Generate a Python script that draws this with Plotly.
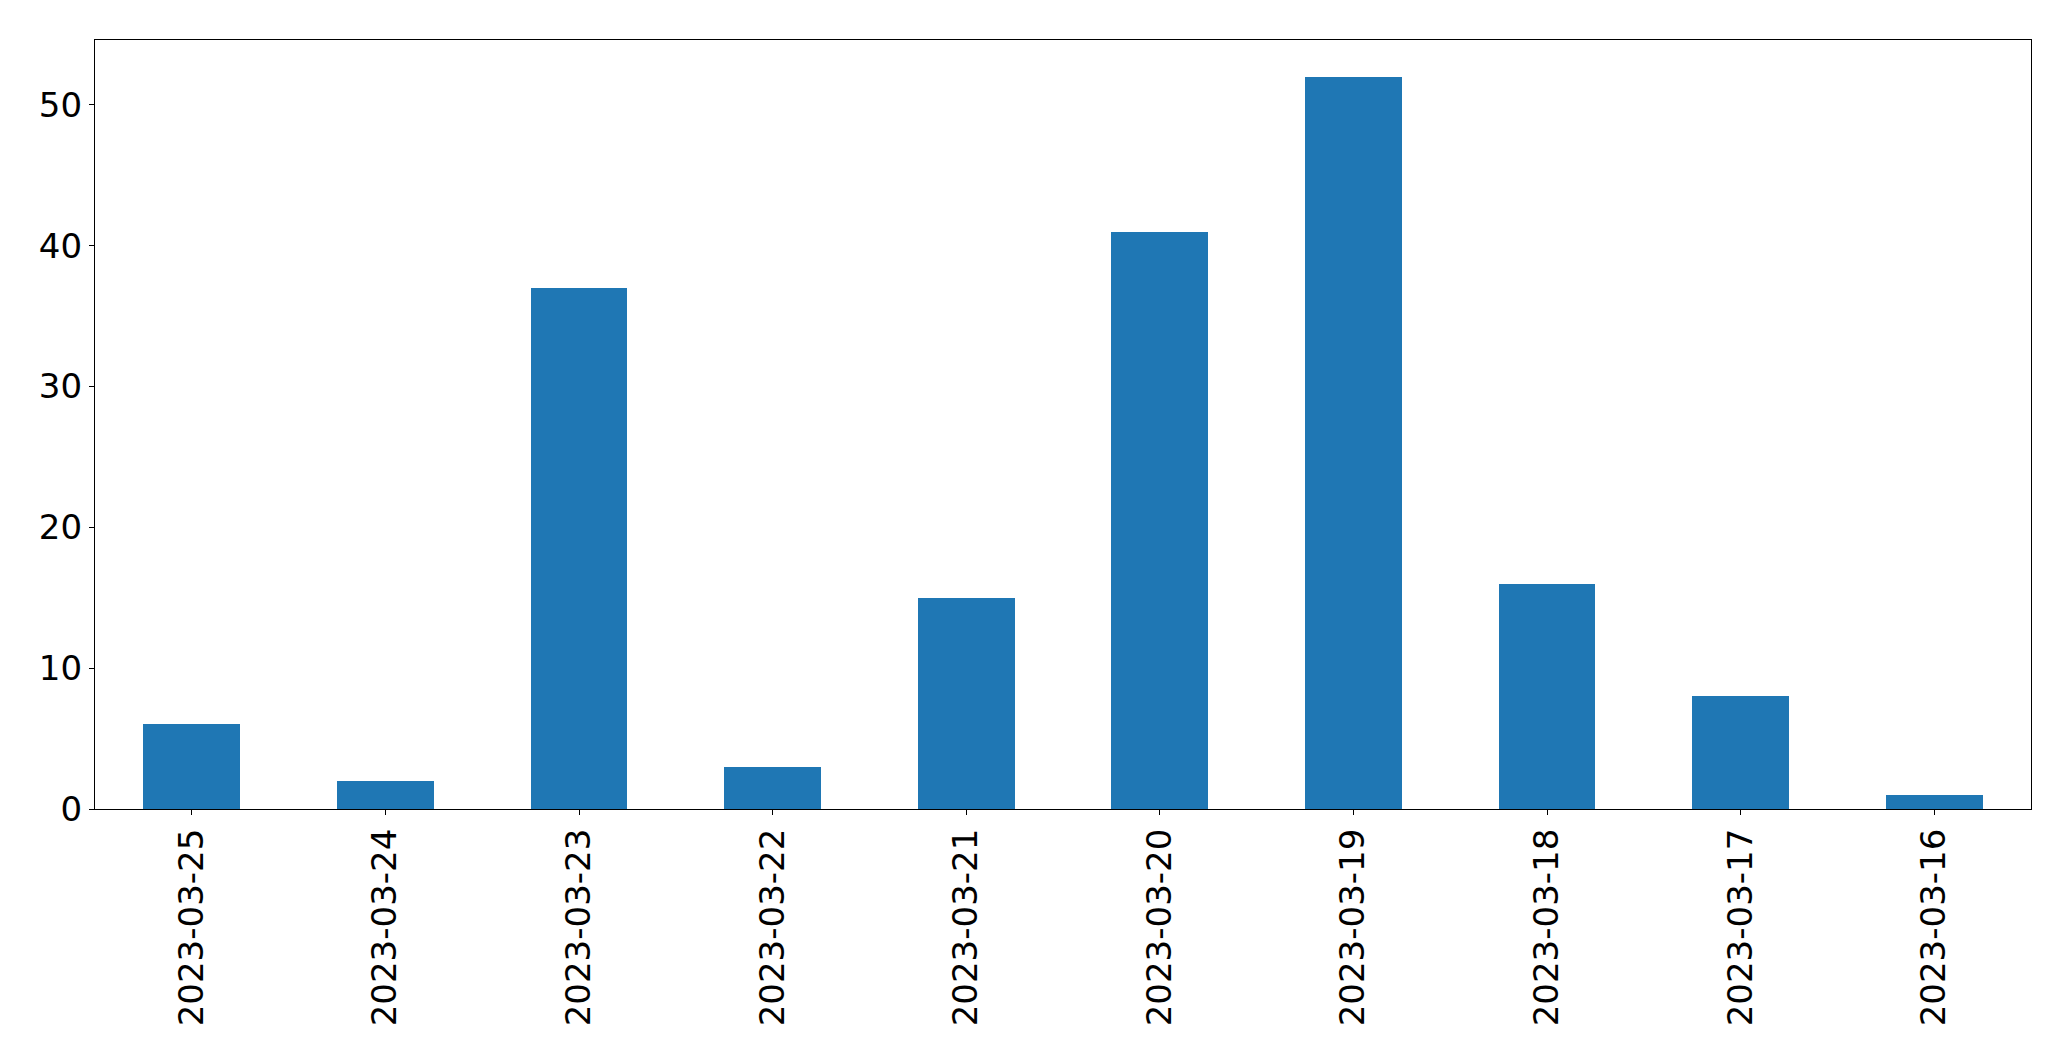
import plotly.graph_objects as go

dates = ["2023-03-25", "2023-03-24", "2023-03-23", "2023-03-22", "2023-03-21",
         "2023-03-20", "2023-03-19", "2023-03-18", "2023-03-17", "2023-03-16"]
counts = [6, 2, 37, 3, 15, 41, 52, 16, 8, 1]
y_ticks = [0, 10, 20, 30, 40, 50]

fig = go.Figure(go.Bar(
    x=dates, y=counts, width=0.5,
    marker=dict(color="#1f77b4", line=dict(width=0)),
))

fig.update_layout(
    width=2071, height=1061, autosize=False,
    margin=dict(l=95, r=40, t=40, b=252, pad=0),
    paper_bgcolor="white", plot_bgcolor="white",
    font=dict(family="DejaVu Sans", size=34, color="black"),
    showlegend=False,
    bargap=0,
)
fig.update_xaxes(
    type="category", range=[-0.5, 9.5],
    showline=True, linecolor="black", linewidth=1.2, mirror=True,
    ticks="outside", ticklen=5, tickwidth=1.2, tickcolor="black",
    tickangle=-90, showgrid=False, zeroline=False,
    tickfont=dict(family="DejaVu Sans", size=34, color="black"),
)
fig.update_yaxes(
    range=[0, 54.6], tickvals=y_ticks,
    showline=True, linecolor="black", linewidth=1.2, mirror=True,
    ticks="outside", ticklen=5, tickwidth=1.2, tickcolor="black",
    showgrid=False, zeroline=False,
    tickfont=dict(family="DejaVu Sans", size=34, color="black"),
)

fig.write_html("out.html")
